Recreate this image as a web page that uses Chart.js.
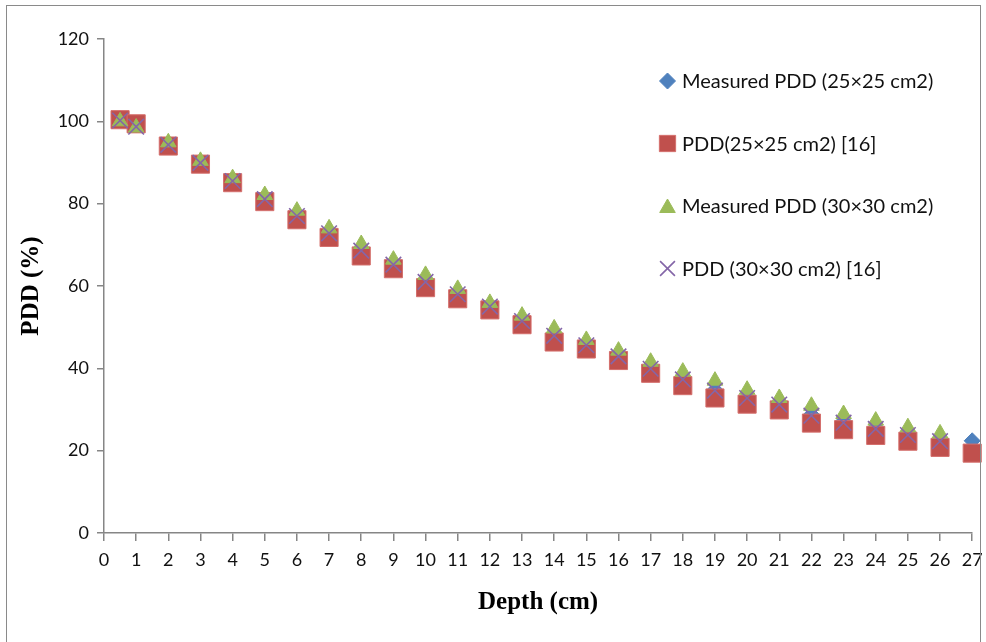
<!DOCTYPE html>
<html>
<head>
<meta charset="utf-8">
<script src="https://cdn.jsdelivr.net/npm/chart.js@4/dist/chart.umd.min.js"></script>
<style>
  html, body { margin: 0; padding: 0; background: #fff; }
  #wrap { position: relative; width: 986px; height: 642px; }
</style>
</head>
<body>
<div id="wrap"><canvas id="pddChart" width="986" height="642"></canvas></div>
<script>
/* depth in cm */
const depth25 = [0.5, 1, 2, 3, 4, 5, 6, 7, 8, 9, 10, 11, 12, 13, 14, 15, 16, 17, 18, 19, 20, 21, 22, 23, 24, 25, 26, 27];
const depth30 = [0.5, 1, 2, 3, 4, 5, 6, 7, 8, 9, 10, 11, 12, 13, 14, 15, 16, 17, 18, 19, 20, 21, 22, 23, 24, 25, 26];

/* PDD values (%) */
const measured25 = [100.6, 99.2, 94.4, 90.1, 85.8, 81.3, 77.0, 72.9, 68.6, 65.2, 61.0, 58.1, 55.2, 51.8, 48.0, 45.9, 43.2, 40.2, 37.4, 34.8, 33.0, 31.4, 28.8, 27.2, 25.7, 24.3, 22.9, 22.4];
const ref25 = [100.4, 99.4, 94.0, 89.6, 85.1, 80.5, 76.1, 71.8, 67.3, 64.2, 59.6, 56.9, 54.2, 50.6, 46.4, 44.7, 41.9, 38.8, 35.8, 32.8, 31.3, 29.9, 26.7, 25.1, 23.7, 22.3, 20.8, 19.4];
const measured30 = [100.0, 98.5, 94.9, 90.4, 86.2, 82.1, 78.3, 74.0, 70.2, 66.4, 62.7, 59.3, 55.9, 52.8, 49.7, 46.9, 44.3, 41.6, 39.2, 37.0, 34.8, 32.8, 30.9, 28.9, 27.3, 25.7, 24.2];
const ref30 = [100.2, 98.7, 94.3, 89.9, 85.5, 81.1, 77.0, 72.8, 68.6, 65.2, 61.0, 58.0, 55.0, 51.5, 47.9, 45.6, 42.9, 39.9, 37.3, 34.6, 32.8, 31.2, 28.5, 26.8, 25.3, 23.8, 22.3];

const seriesNames = ['Measured PDD (25\u00d725 cm2)', 'PDD(25\u00d725 cm2) [16]', 'Measured PDD (30\u00d730 cm2)', 'PDD (30\u00d730 cm2) [16]'];
const yTicks = [0, 20, 40, 60, 80, 100, 120];

function toPoints(xs, ys) {
    return xs.map(function(x, i) { return { x: x, y: ys[i] }; });
}

const axisColor = '#868686';
const tickFont = { family: 'Lato', size: 18 };
const titleFont = { family: 'Liberation Serif', size: 25, weight: 'bold' };

/* legend drawn by hand, Excel-style at the right */
const sideLegend = {
    id: 'sideLegend',
    afterDraw(chart) {
        const ctx = chart.ctx;
        const legendMarks = [
            { style: 'rectRot', r: 8 },
            { style: 'rect', r: 11.5 },
            { style: 'triangle', r: 9 },
            { style: 'crossRot', r: 10.5 }
        ];
        ctx.save();
        chart.data.datasets.forEach(function(ds, i) {
            const y = 81 + i * 62.5;
            const m = legendMarks[i];
            ctx.fillStyle = ds.backgroundColor;
            ctx.strokeStyle = ds.borderColor;
            ctx.lineWidth = ds.pointBorderWidth;
            Chart.helpers.drawPoint(ctx, { pointStyle: m.style, radius: m.r, rotation: 0, borderWidth: ds.pointBorderWidth }, 667.5, m.style == 'triangle' ? y + 2 : y);
            ctx.fillStyle = '#111';
            ctx.font = '20px Lato';
            ctx.textAlign = 'left';
            ctx.textBaseline = 'middle';
            ctx.fillText(seriesNames[i], 682, y + 1);
        });
        /* outer frame */
        ctx.strokeStyle = '#8a8a8a';
        ctx.lineWidth = 1;
        ctx.strokeRect(6.5, 5.5, 974, 700);
        ctx.restore();
    }
};

const ctx = document.getElementById('pddChart').getContext('2d');
const chart = new Chart(ctx, {
    type: 'scatter',
    data: {
        datasets: [{
            label: seriesNames[0],
            data: toPoints(depth25, measured25),
            pointStyle: 'rectRot',
            pointRadius: 8,
            backgroundColor: '#4F81BD',
            borderColor: '#4F81BD',
            pointBorderWidth: 1,
            order: 4,
            clip: false
        }, {
            label: seriesNames[1],
            data: toPoints(depth25, ref25),
            pointStyle: 'rect',
            pointRadius: 12.8,
            backgroundColor: '#C0504D',
            borderColor: '#D46F6C',
            pointBorderWidth: 1,
            order: 3,
            clip: false
        }, {
            label: seriesNames[2],
            data: toPoints(depth30, measured30),
            pointStyle: 'triangle',
            pointRadius: 9,
            backgroundColor: '#9BBB59',
            borderColor: '#9BBB59',
            pointBorderWidth: 1,
            order: 2,
            clip: false
        }, {
            label: seriesNames[3],
            data: toPoints(depth30, ref30),
            pointStyle: 'crossRot',
            pointRadius: 11,
            backgroundColor: '#8064A2',
            borderColor: '#8466A8',
            pointBorderWidth: 1.6,
            order: 1,
            clip: false
        }]
    },
    options: {
        responsive: false,
        animation: false,
        events: [],
        layout: {
            padding: { left: 0, top: 39, right: 9, bottom: 0 }
        },
        plugins: {
            legend: { display: false },
            tooltip: { enabled: false }
        },
        scales: {
            x: {
                type: 'linear',
                min: 0,
                max: 27,
                border: { color: axisColor, width: 1.5 },
                grid: { drawOnChartArea: false, drawTicks: true, tickLength: 8, color: axisColor, lineWidth: 1.5 },
                ticks: { stepSize: 1, autoSkip: false, maxRotation: 0, color: '#111', font: tickFont, padding: 8 },
                title: { display: true, text: 'Depth (cm)', color: '#000', font: titleFont, padding: { top: 0, bottom: 24 } },
                afterFit: function(s) {
                    s.height = 642 - 533;
                    s.paddingLeft = 0;
                    s.paddingRight = 0;
                }
            },
            y: {
                min: 0,
                max: 120,
                border: { color: axisColor, width: 1.5 },
                grid: { drawOnChartArea: false, drawTicks: true, tickLength: 7, color: axisColor, lineWidth: 1.5 },
                afterBuildTicks: function(s) {
                    s.ticks = yTicks.map(function(v) { return { value: v }; });
                },
                ticks: { color: '#111', font: tickFont, padding: 8 },
                title: { display: true, text: 'PDD (%)', color: '#000', font: titleFont, padding: { top: 17, bottom: 0 } },
                afterFit: function(s) {
                    s.width = 104;
                    s.paddingTop = 0;
                    s.paddingBottom = 0;
                }
            }
        }
    },
    plugins: [sideLegend]
});
</script>
</body>
</html>
